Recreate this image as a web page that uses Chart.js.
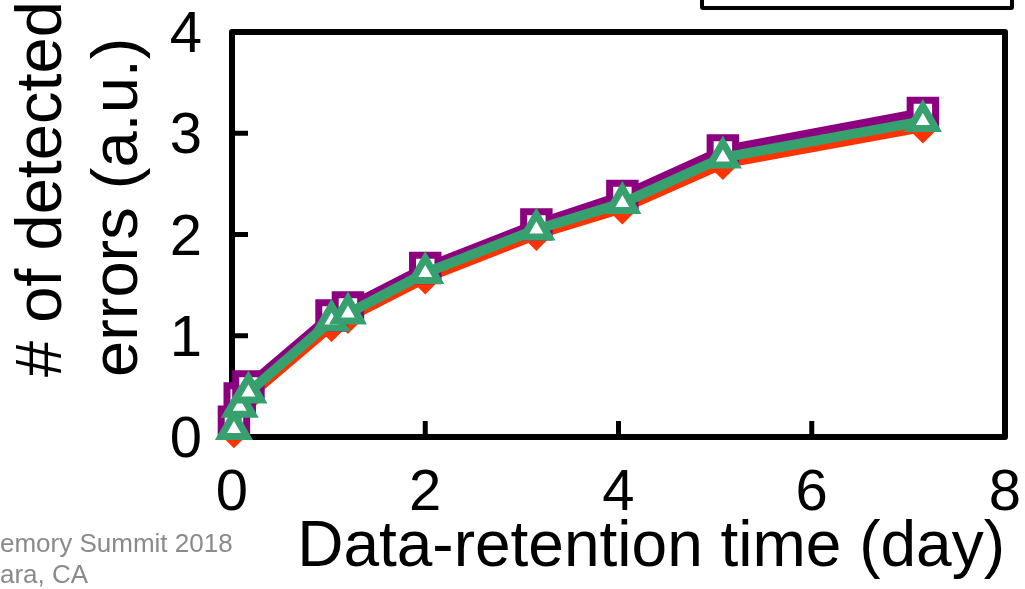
<!DOCTYPE html>
<html>
<head>
<meta charset="utf-8">
<script src="https://cdn.jsdelivr.net/npm/chart.js@4.4.1/dist/chart.umd.min.js"></script>
<style>
  html, body { margin: 0; padding: 0; background: #ffffff; overflow: hidden; }
  #wrap { position: relative; width: 1025px; height: 589px; }
  #legendBox { position: absolute; left: 700px; top: -60px; width: 306px; height: 62px;
    border: 4px solid #000; border-radius: 3px; background: #fff; }
  #footer { position: absolute; left: 0px; top: 528px; font-family: "Liberation Sans", Arial, sans-serif;
    font-size: 26px; line-height: 31px; color: #8a8a8a; }
</style>
</head>
<body>
<div id="wrap">
  <canvas id="c" width="1025" height="589"></canvas>
  <div id="legendBox"></div>
  <div id="footer">emory Summit 2018<br>ara, CA</div>
</div>
<script>
// ---- data ----
const retentionDays = [0.02, 0.08, 0.17, 1.03, 1.2, 2.0, 3.15, 4.04, 5.08, 7.15];
const seriesGreen   = [0.08, 0.30, 0.44, 1.15, 1.22, 1.62, 2.05, 2.31, 2.76, 3.12];
const seriesPurple  = [0.15, 0.38, 0.50, 1.20, 1.28, 1.67, 2.10, 2.38, 2.83, 3.20];
const seriesOrange  = [0.05, 0.25, 0.40, 1.10, 1.18, 1.57, 2.00, 2.26, 2.70, 3.06];
const xTickValues = [0, 2, 4, 6, 8];
const yTickValues = [0, 1, 2, 3, 4];
const xTitle = "Data-retention time (day)";
const yTitleLines = ["# of detected", "errors (a.u.)"];

const toPts = (ys) => ys.map((y, i) => ({ x: retentionDays[i], y: y }));

const FONT = '"Liberation Sans", Arial, sans-serif';

const frame = {
  id: 'frame',
  beforeDatasetsDraw(chart) {
    const { ctx, chartArea: a, scales } = chart;
    ctx.save();
    ctx.strokeStyle = '#000';
    ctx.lineWidth = 6;
    ctx.lineJoin = 'round';
    ctx.strokeRect(a.left, a.top, a.right - a.left, a.bottom - a.top);
    // inward ticks
    ctx.lineWidth = 5;
    ctx.lineCap = 'butt';
    xTickValues.forEach(v => {
      const px = scales.x.getPixelForValue(v);
      if (px <= a.left + 2 || px >= a.right - 2) return;
      ctx.beginPath(); ctx.moveTo(px, a.bottom); ctx.lineTo(px, a.bottom - 16); ctx.stroke();
    });
    yTickValues.forEach(v => {
      const py = scales.y.getPixelForValue(v);
      if (py <= a.top + 2 || py >= a.bottom - 2) return;
      ctx.beginPath(); ctx.moveTo(a.left, py); ctx.lineTo(a.left + 16, py); ctx.stroke();
    });
    ctx.restore();
  },
  afterDraw(chart) {
    const { ctx } = chart;
    ctx.save();
    ctx.fillStyle = '#000';
    ctx.font = '65px ' + FONT;
    ctx.textAlign = 'left';
    ctx.textBaseline = 'alphabetic';
    const baseX = [61, 137];
    yTitleLines.forEach((t, i) => {
      ctx.save();
      ctx.translate(baseX[i], 377);
      ctx.rotate(-Math.PI / 2);
      ctx.fillText(t, 0, 0);
      ctx.restore();
    });
    ctx.restore();
  }
};

const common = { showLine: true, fill: false, tension: 0, clip: false, borderWidth: 10 };

new Chart(document.getElementById('c'), {
  type: 'scatter',
  data: {
    datasets: [
      Object.assign({}, common, {
        label: 'Green', data: toPts(seriesGreen),
        borderColor: '#36a16e', backgroundColor: '#ffffff',
        pointStyle: 'triangle', pointRadius: 15, pointBorderWidth: 7,
        pointBorderColor: '#36a16e', pointBackgroundColor: '#ffffff'
      }),
      Object.assign({}, common, {
        label: 'Purple', data: toPts(seriesPurple),
        borderColor: '#8c0080', backgroundColor: '#ffffff',
        pointStyle: 'rect', pointRadius: 18, pointBorderWidth: 7,
        pointBorderColor: '#8c0080', pointBackgroundColor: '#ffffff'
      }),
      Object.assign({}, common, {
        label: 'Orange', data: toPts(seriesOrange),
        borderColor: '#ff3300', backgroundColor: '#ff3300',
        pointStyle: 'rectRot', pointRadius: 15, pointBorderWidth: 2,
        pointBorderColor: '#ff3300', pointBackgroundColor: '#ff3300'
      })
    ]
  },
  options: {
    responsive: false,
    animation: false,
    layout: { autoPadding: false, padding: { left: 0, right: 20, top: 32, bottom: 0 } },
    plugins: { legend: { display: false }, tooltip: { enabled: false } },
    elements: { line: { borderJoinStyle: 'round' } },
    scales: {
      x: {
        type: 'linear', min: 0, max: 8,
        afterBuildTicks: (s) => { s.ticks = xTickValues.map(v => ({ value: v })); },
        afterFit: (s) => { s.height = 152; s.paddingLeft = 0; s.paddingRight = 0; },
        grid: { display: false, drawTicks: false },
        border: { display: false },
        ticks: { color: '#000', font: { family: FONT, size: 58 }, padding: 22, maxRotation: 0 },
        title: { display: true, text: xTitle, align: 'end', color: '#000',
                 font: { family: FONT, size: 64 }, padding: { top: 0, bottom: 2 } }
      },
      y: {
        type: 'linear', min: 0, max: 4,
        afterBuildTicks: (s) => { s.ticks = yTickValues.map(v => ({ value: v })); },
        afterFit: (s) => { s.width = 232; s.paddingTop = 0; s.paddingBottom = 0; },
        grid: { display: false, drawTicks: false },
        border: { display: false },
        ticks: { color: '#000', font: { family: FONT, size: 58 }, padding: 30, labelOffset: 4 }
      }
    }
  },
  plugins: [frame]
});
</script>
</body>
</html>
